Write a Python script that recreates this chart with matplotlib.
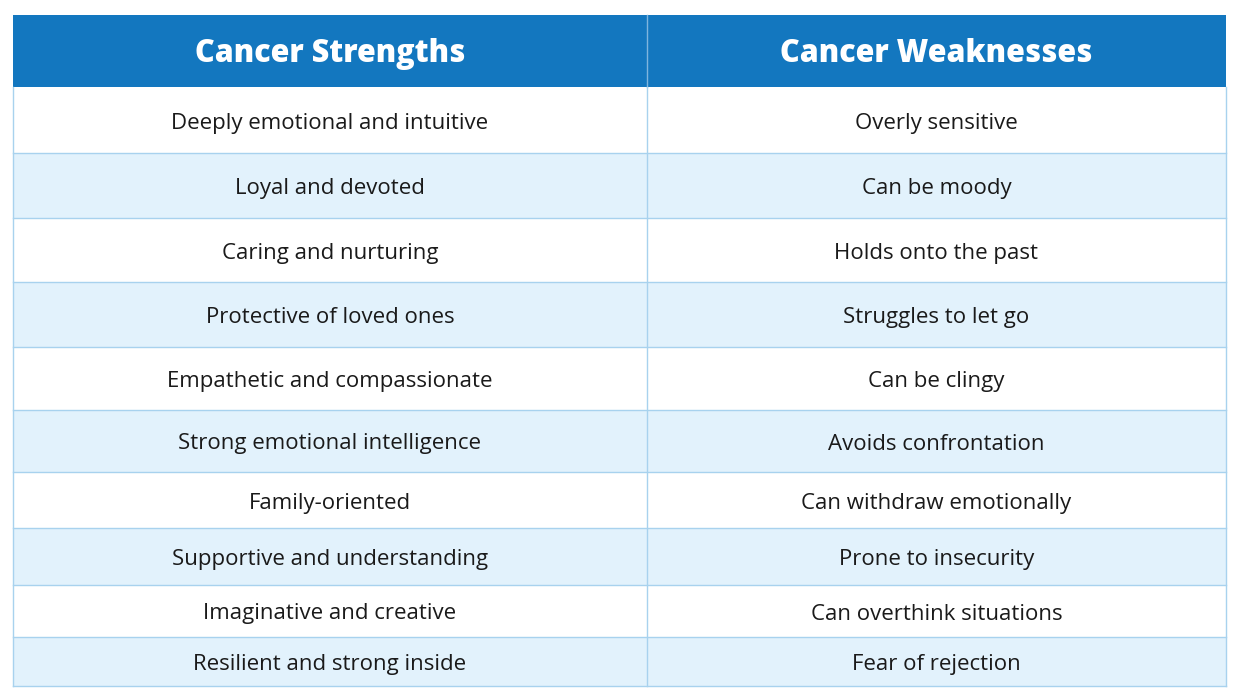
import matplotlib
matplotlib.use("Agg")
import matplotlib.pyplot as plt
from matplotlib.patches import Rectangle

headers = ["Cancer Strengths", "Cancer Weaknesses"]
strengths = ["Deeply emotional and intuitive", "Loyal and devoted", "Caring and nurturing",
             "Protective of loved ones", "Empathetic and compassionate", "Strong emotional intelligence",
             "Family-oriented", "Supportive and understanding", "Imaginative and creative",
             "Resilient and strong inside"]
weaknesses = ["Overly sensitive", "Can be moody", "Holds onto the past", "Struggles to let go",
              "Can be clingy", "Avoids confrontation", "Can withdraw emotionally",
              "Prone to insecurity", "Can overthink situations", "Fear of rejection"]

# layout (pixels)
row_edges = [15, 87, 153, 218, 282, 347, 410, 472, 528, 585, 637, 686]
col_edges = [13, 647, 1226]
header_col = "#1377BF"
alt_col = "#E2F2FC"
line_col = "#A8D2EE"

fig = plt.figure(figsize=(12.4, 6.98), dpi=100)
ax = fig.add_axes([0, 0, 1, 1])
ax.set_xlim(0, 1240)
ax.set_ylim(698, 0)
ax.axis("off")

# header
ax.add_patch(Rectangle((col_edges[0], row_edges[0]), col_edges[2]-col_edges[0],
                       row_edges[1]-row_edges[0], facecolor=header_col, edgecolor="none"))
ax.plot([col_edges[1]]*2, [row_edges[0], row_edges[1]], color="#7FB5DE", lw=1)
for j, h in enumerate(headers):
    xc = (col_edges[j]+col_edges[j+1])/2
    ax.text(xc, (row_edges[0]+row_edges[1])/2 + 3, h, ha="center", va="center",
            fontsize=22, fontweight="heavy", color="white", family="Open Sans")

rows = list(zip(strengths, weaknesses))
for i, (s, w) in enumerate(rows):
    y0, y1 = row_edges[i+1], row_edges[i+2]
    fc = "white" if i % 2 == 0 else alt_col
    ax.add_patch(Rectangle((col_edges[0], y0), col_edges[2]-col_edges[0], y1-y0,
                           facecolor=fc, edgecolor="none"))
    ax.plot([col_edges[0], col_edges[2]], [y1, y1], color=line_col, lw=1)
    for j, t in enumerate((s, w)):
        xc = (col_edges[j]+col_edges[j+1])/2
        ax.text(xc, (y0+y1)/2 + 3, t, ha="center", va="center", fontsize=16,
                color="#1a1a1a", family="Open Sans")

for x in col_edges:
    ax.plot([x, x], [row_edges[1], row_edges[-1]], color=line_col, lw=1)

fig.savefig("out.png", dpi=100, facecolor="white")
